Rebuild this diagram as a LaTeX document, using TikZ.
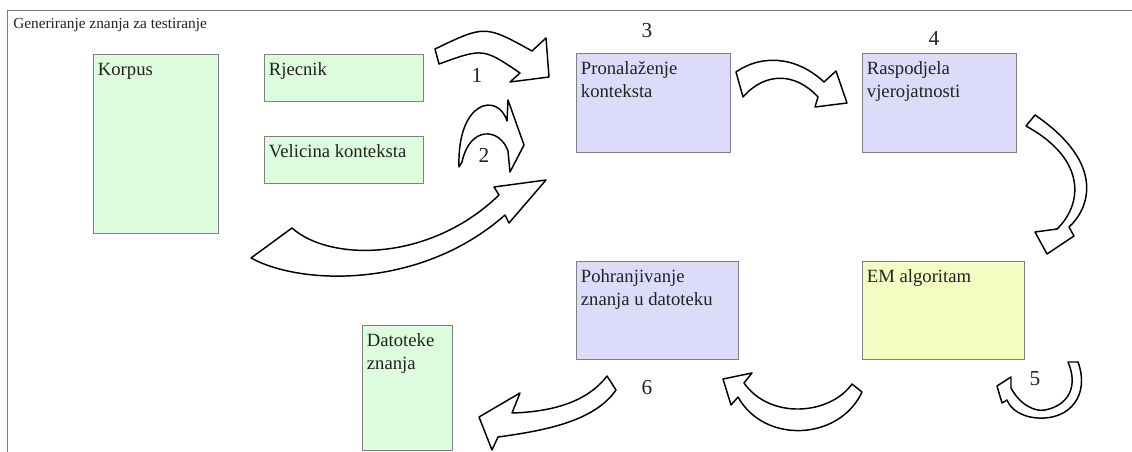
\documentclass[tikz,border=0pt]{standalone}
\usepackage{fontspec}
\setmainfont{Liberation Serif}
\definecolor{framegray}{HTML}{7A7A7A}
\definecolor{boxgray}{HTML}{808080}
\definecolor{ink}{HTML}{222222}
\definecolor{mint}{HTML}{DDFBDD}
\definecolor{lavender}{HTML}{DCDCFA}
\definecolor{paleyellow}{HTML}{F3FEC2}
% top-aligned block of lines: the node's baseline is that of the first line
\newcommand{\toplines}[1]{\parbox[t]{4cm}{\raggedright #1}}
\begin{document}
\begin{tikzpicture}[x=0.75pt,y=-0.75pt,
  frame/.style={draw=framegray, line width=1.1pt},
  box/.style n args={3}{draw=boxgray, line width=0.8pt, fill=#1,
    anchor=north west, inner sep=0pt,
    minimum width=#2*0.75pt, minimum height=#3*0.75pt},
  boxtext/.style={anchor=base west, inner sep=0pt,
    font=\fontsize{14}{17}\selectfont, text=ink},
  stepnum/.style={inner sep=0pt, font=\fontsize{16}{16}\selectfont, text=ink},
  blockarrow/.style={draw=black, fill=white, line width=1.1pt, line join=round}
]
\useasboundingbox (0,0) rectangle (1132,452);
\clip (0,0) rectangle (1132,452);
\fill[white] (0,0) rectangle (1132,452);

% surrounding frame (only its top and left edges are in view)
\draw[frame] (7.5,470) -- (7.5,10.5) -- (1150,10.5);
\node[anchor=base west, inner sep=0pt, font=\fontsize{11.5}{13}\selectfont, text=ink]
  (title) at (13,29) {Generiranje znanja za testiranje};

% input boxes
\node[box={mint}{125}{179}] (korpus) at (93,54) {};
\node[box={mint}{159}{47}] (rjecnik) at (264,54) {};
\node[box={mint}{159}{47}] (velicina) at (264,136) {};
% processing steps
\node[box={lavender}{154}{99}] (pronal) at (576,53) {};
\node[box={lavender}{154}{99}] (raspod) at (862,53) {};
\node[box={paleyellow}{162}{98}] (emalg) at (862,261) {};
\node[box={lavender}{162}{98}] (pohran) at (576,261) {};
% output
\node[box={mint}{90}{125}] (datot) at (362,325) {};

\foreach \b/\t in {korpus/Korpus, rjecnik/Rjecnik, velicina/Velicina konteksta,
  pronal/{Pronalaženje\\konteksta}, raspod/{Raspodjela\\vjerojatnosti},
  emalg/EM algoritam, pohran/{Pohranjivanje\\znanja u datoteku},
  datot/{Datoteke\\znanja}}
  \node[boxtext] (\b-text) at ([xshift=3.5pt, yshift=-16.5pt]\b.north west) {\toplines{\t}};

% step numbers
\node[stepnum] (n1) at (477,75) {1};
\node[stepnum] (n2) at (484,155) {2};
\node[stepnum] (n3) at (647,31) {3};
\node[stepnum] (n4) at (934,38) {4};
\node[stepnum] (n5) at (1035,379) {5};
\node[stepnum] (n6) at (647,388) {6};

% curved block arrows
% Rjecnik -> Pronalazenje
\draw[blockarrow] (435,49) .. controls (485,25) .. (532,51) -- (546,38) -- (549,77)
  -- (510,82) -- (520,73) .. controls (483,48) .. (439,64) -- cycle;
% Velicina konteksta -> Pronalazenje
\draw[blockarrow] (459,167) .. controls (457,100) and (498,92) .. (507,121)
  -- (508,100) -- (524,145) -- (510,172) -- (508,151)
  .. controls (500,128) and (470,125) .. (462,162) -- cycle;
% Korpus -> Pronalazenje
\draw[blockarrow] (251,258) .. controls (300,285) and (420,290) .. (505,215)
  -- (509,223) -- (546,180) -- (494,187) -- (499,195)
  .. controls (430,262) and (330,262) .. (292,228) -- cycle;
% Pronalazenje -> Raspodjela
\draw[blockarrow] (736,72) .. controls (760,55) and (795,55) .. (824,82) -- (836,71) -- (847,103)
  -- (815,107) -- (818,97) .. controls (795,72) and (765,72) .. (743,97) -- cycle;
% Raspodjela -> EM algoritam
\draw[blockarrow] (1035,115) .. controls (1108,165) and (1088,210) .. (1069,227)
  -- (1074,236) -- (1047,254) -- (1035,232) -- (1057,229)
  .. controls (1082,205) and (1088,160) .. (1026,126) -- cycle;
% EM algoritam loop
\draw[blockarrow] (1078,362) .. controls (1090,395) and (1070,420) .. (1038,418)
  .. controls (1020,417) and (1010,408) .. (1007,400)
  -- (1002,403) -- (997,386) -- (1011,377) -- (1011,388)
  .. controls (1020,405) and (1035,412) .. (1045,410)
  .. controls (1070,405) and (1078,385) .. (1068,362) -- cycle;
% EM algoritam -> Pohranjivanje
\draw[blockarrow] (852,384) .. controls (830,415) and (770,420) .. (744,383)
  -- (752,373) -- (723,379) -- (731,405) -- (738,397)
  .. controls (765,445) and (840,440) .. (862,392) -- cycle;
% Pohranjivanje -> Datoteke znanja
\draw[blockarrow] (607,376) .. controls (585,405) and (545,412) .. (512,413)
  -- (520,393) -- (479,417) -- (492,450) -- (498,437)
  .. controls (550,430) and (595,420) .. (616,390) -- cycle;
\end{tikzpicture}
\end{document}
